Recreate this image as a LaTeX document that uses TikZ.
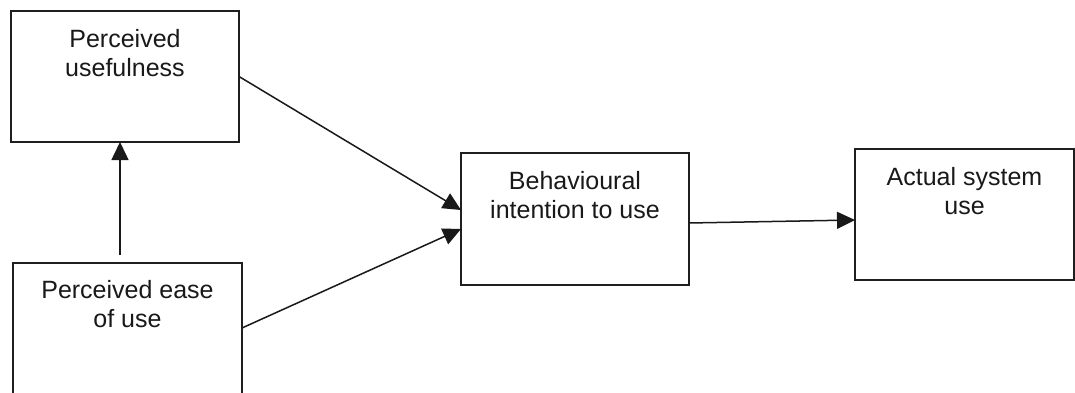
\documentclass[tikz,border=0pt]{standalone}
\usepackage{fontspec}
\setmainfont{Liberation Sans}
\usetikzlibrary{arrows.meta}
\begin{document}
\begin{tikzpicture}[x=1pt,y=-1pt,
  box/.style={draw=black!88, line width=2pt, inner sep=0pt, outer sep=0pt, anchor=north west},
  lbl/.style={font=\fontsize{25}{29}\selectfont, align=center, inner sep=0pt, anchor=north, text=black!90},
  arr/.style={draw=black!90, line width=1.5pt, -{Triangle[length=18pt,width=17pt]}}]
\clip (0,0) rectangle (1075,393);
\fill[white] (0,0) rectangle (1075,393);
% boxes
\node[box, minimum width=228pt, minimum height=131pt] (pu) at (11,11) {};
\node[box, minimum width=229pt, minimum height=140pt] (peu) at (13,263) {};
\node[box, minimum width=228pt, minimum height=132pt] (bi) at (461,153) {};
\node[box, minimum width=219pt, minimum height=131pt] (asu) at (855,149) {};
% labels
\node[lbl] (put) at ([yshift=-18pt]pu.north) {Perceived\\usefulness};
\node[lbl] (peut) at ([yshift=-17pt]peu.north) {Perceived ease\\of use};
\node[lbl] (bit) at ([yshift=-18.5pt]bi.north) {Behavioural\\intention to use};
\node[lbl] (asut) at ([yshift=-18pt]asu.north) {Actual system\\use};
% connectors
\coordinate (vstart) at ([xshift=-7.5pt,yshift=8pt]peu.north);
\draw[arr] (vstart) -- (vstart |- pu.south);
\draw[arr] (pu.east) -- ([yshift=9pt]bi.west);
\draw[arr] ([yshift=5pt]peu.east) -- ([yshift=-10pt]bi.west);
\draw[arr] ([yshift=-4pt]bi.east) -- ([yshift=-5.5pt]asu.west);
\end{tikzpicture}
\end{document}
